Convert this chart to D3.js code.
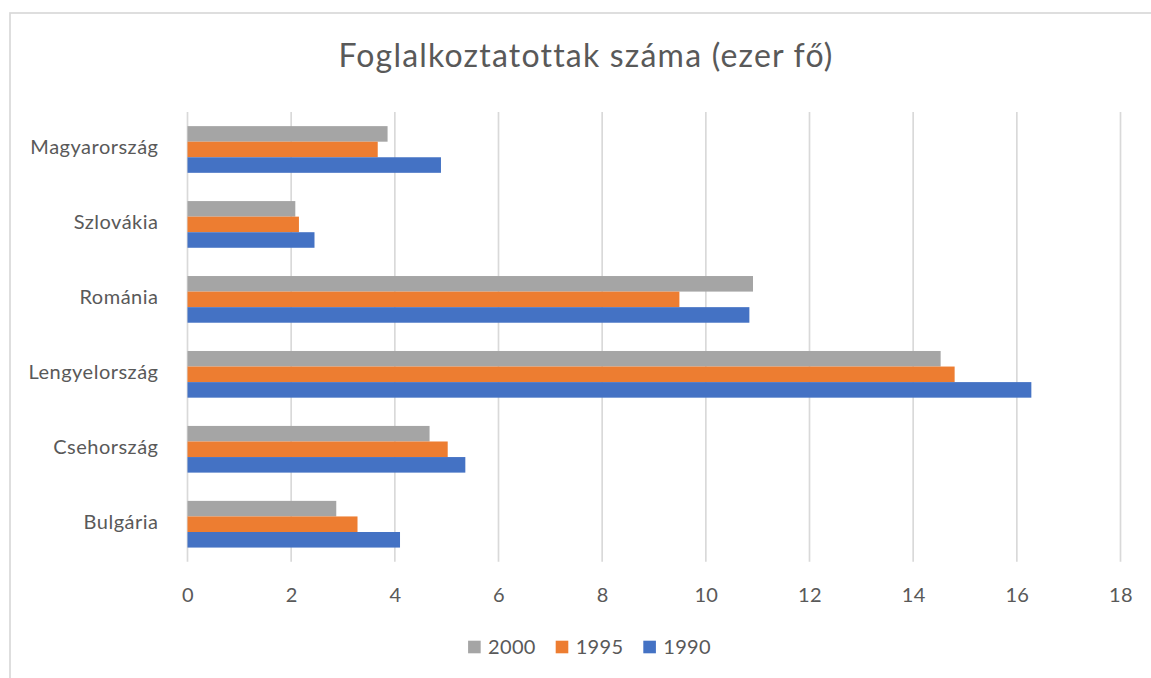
<!DOCTYPE html>
<html>
<head>
<meta charset="utf-8">
<script src="https://cdn.jsdelivr.net/npm/d3@7"></script>
<style>
  body { margin: 0; background: #fff; }
  #wrapper svg { display: block; font-family: Lato, "Open Sans", sans-serif; }
</style>
</head>
<body>
<div id="wrapper"></div>
<script>
const TITLE = "Foglalkoztatottak száma (ezer fő)";
// top to bottom, like in the picture
const countries = ["Magyarország", "Szlovákia", "Románia", "Lengyelország", "Csehország", "Bulgária"];
const years = ["2000", "1995", "1990"];
const values2000 = [3.86, 2.08, 10.91, 14.53, 4.67, 2.87];
const values1995 = [3.67, 2.15, 9.49, 14.80, 5.02, 3.28];
const values1990 = [4.89, 2.45, 10.84, 16.28, 5.36, 4.10];
const xTicks = [0, 2, 4, 6, 8, 10, 12, 14, 16, 18];
const yearColors = ["#a5a5a5", "#ed7d31", "#4472c4"];

const seriesValues = [values2000, values1995, values1990];
const data = countries.map((c, i) => ({
  country: c,
  values: years.map((y, j) => ({ year: y, value: seriesValues[j][i] }))
}));

const dimensions = {
  width: 1151,
  height: 678,
  margin: {
    top: 112,
    right: 30.5,
    left: 187.5,
    bottom: 116.3
  }
};
dimensions.boundedWidth = dimensions.width
  - dimensions.margin.left
  - dimensions.margin.right;
dimensions.boundedHeight = dimensions.height
  - dimensions.margin.top
  - dimensions.margin.bottom;

const textColor = "#595959";
const gridColor = "#d9d9d9";
const labelSize = "20px";

const wrapper = d3.select("#wrapper")
  .append("svg")
  .attr("width", dimensions.width)
  .attr("height", dimensions.height);

// chart area frame (runs off the right/bottom edge in the original)
wrapper.append("rect")
  .attr("x", 10)
  .attr("y", 13)
  .attr("width", 1200)
  .attr("height", 800)
  .attr("fill", "none")
  .attr("stroke", gridColor)
  .attr("stroke-width", 1.7);

wrapper.append("text")
  .attr("x", 586)
  .attr("y", 67)
  .attr("text-anchor", "middle")
  .attr("fill", textColor)
  .style("font-size", "32px")
  .style("letter-spacing", "1.2px")
  .text(TITLE);

const bounds = wrapper.append("g")
  .attr("transform", `translate(${dimensions.margin.left},${dimensions.margin.top})`);

const xScale = d3.scaleLinear()
  .domain([0, 18])
  .range([0, dimensions.boundedWidth]);

const gap = 0.377;
const yScale = d3.scaleBand()
  .domain(countries)
  .range([0, dimensions.boundedHeight])
  .paddingInner(gap)
  .paddingOuter(gap / 2);

const yInner = d3.scaleBand()
  .domain(years)
  .range([0, yScale.bandwidth()]);

const colorScale = d3.scaleOrdinal()
  .domain(years)
  .range(yearColors);

// vertical gridlines
bounds.append("g")
  .selectAll("line")
  .data(xTicks)
  .join("line")
  .attr("x1", d => xScale(d))
  .attr("x2", d => xScale(d))
  .attr("y1", 0)
  .attr("y2", dimensions.boundedHeight)
  .attr("stroke", gridColor)
  .attr("stroke-width", 1.7);

const groups = bounds.selectAll(".group")
  .data(data)
  .join("g")
  .attr("class", "group")
  .attr("transform", d => `translate(0,${yScale(d.country)})`);

groups.selectAll("rect")
  .data(d => d.values)
  .join("rect")
  .attr("x", 0)
  .attr("y", d => yInner(d.year))
  .attr("width", d => xScale(d.value))
  .attr("height", yInner.bandwidth())
  .attr("fill", d => colorScale(d.year));

// x axis: labels only, no line / ticks
const xAxisGenerator = d3.axisBottom(xScale)
  .tickValues(xTicks)
  .tickSize(0)
  .tickPadding(0);

const xAxis = bounds.append("g")
  .attr("transform", `translate(0,${dimensions.boundedHeight})`)
  .call(xAxisGenerator);
xAxis.select(".domain").remove();
xAxis.selectAll("text")
  .attr("dy", null)
  .attr("y", 40)
  .attr("fill", textColor)
  .style("font-family", "Lato, sans-serif")
  .style("font-size", labelSize)
  .style("letter-spacing", "0.3px");

// y axis: category names
const yAxisGenerator = d3.axisLeft(yScale)
  .tickSize(0)
  .tickPadding(29);

const yAxis = bounds.append("g")
  .call(yAxisGenerator);
yAxis.select(".domain").remove();
yAxis.selectAll("text")
  .attr("dy", null)
  .attr("y", 4.5)
  .attr("fill", textColor)
  .style("font-family", "Lato, sans-serif")
  .style("font-size", labelSize)
  .style("letter-spacing", "0.5px");

// legend, centred under the chart
const legend = wrapper.append("g");
const legendItems = legend.selectAll("g")
  .data(years)
  .join("g");

legendItems.append("rect")
  .attr("y", 640.7)
  .attr("width", 12.6)
  .attr("height", 12.6)
  .attr("fill", d => colorScale(d));

legendItems.append("text")
  .attr("x", 20)
  .attr("y", 653.5)
  .attr("fill", textColor)
  .style("font-size", labelSize)
  .style("letter-spacing", "0.3px")
  .text(d => d);

let cursor = 0;
legendItems.each(function () {
  const w = d3.select(this).select("text").node().getComputedTextLength();
  d3.select(this).attr("transform", `translate(${cursor},0)`);
  cursor += 20 + w + 20;
});
const legendWidth = cursor - 20;
legend.attr("transform", `translate(${589.5 - legendWidth / 2},0)`);
</script>
</body>
</html>
